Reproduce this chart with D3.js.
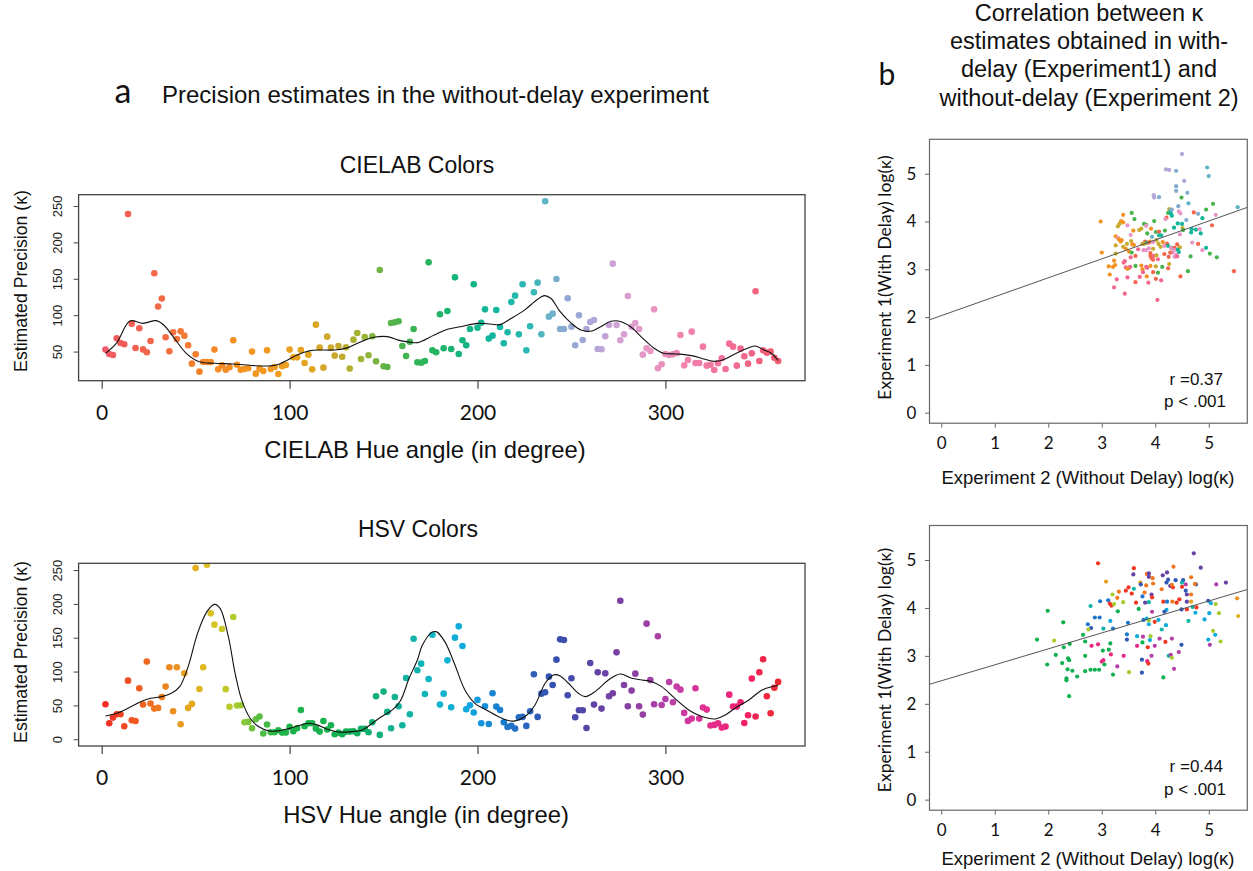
<!DOCTYPE html>
<html>
<head>
<meta charset="utf-8">
<script src="https://cdn.jsdelivr.net/npm/d3@7"></script>
<style>
  body { margin: 0; background: #fff; }
</style>
</head>
<body>
<div id="chart"></div>
<script>

// --------------------------------------------------------
// Data

// tick values
var hue_ticks           = [0, 100, 200, 300];
var cielab_kappa_ticks  = [50, 100, 150, 200, 250];
var hsv_kappa_ticks     = [0, 50, 100, 150, 200, 250];
var log_ticks           = [0, 1, 2, 3, 4, 5];

// panel a, CIELAB: [hue angle, estimated kappa]
var cielab_points = [
  [2,52.7],[4,46.7],[6,45.3],[8,68.2],[10,61.8],[12,60],[14,239],[16,88.4],[18,55],[20,82],
  [22,53],[24,49],[26,64.6],[28,157.5],[30,112],[32,123],[34,69.6],[36,50.4],[38,76.5],[40,67.3],
  [42,77.8],[44,71.9],[46,58.6],[48,33.4],[50,46.2],[52,22.4],[54,35.7],[56,35.7],[58,35.7],[60,52.7],
  [62,25.6],[64,31.1],[66,25.2],[68,28.4],[70,65.5],[72,32],[74,25.2],[76,26],[78,27],[80,50],
  [82,19.7],[84,26.6],[86,23.4],[88,51.7],[90,26],[92,28.8],[94,19.2],[96,29.8],[98,31.6],[100,52.7],
  [102,42.1],[104,42.1],[106,52.2],[108,34.3],[110,45.8],[112,25.6],[114,87],[116,55.4],[118,27.9],[120,70.5],
  [122,55.4],[124,44.4],[126,57.7],[128,43],[130,55.9],[132,26.6],[134,66.4],[136,75.5],[138,39.8],[140,70.1],
  [142,44.9],[144,71],[146,36.6],[148,162],[150,29.8],[152,28.8],[154,89.3],[156,90.2],[158,91.6],[160,57.7],
  [162,44],[164,63.6],[166,81],[168,35.3],[170,34.8],[172,37.1],[174,172.6],[176,51.7],[178,49],[180,101.2],
  [182,54.5],[184,105.8],[186,53.6],[188,152],[190,46.7],[192,65.5],[194,58.6],[196,81],[198,142.4],[200,82.9],
  [202,89.7],[204,108],[206,67.8],[208,71.9],[210,107.1],[212,83.8],[214,61.4],[216,76.5],[218,118.1],[220,126.8],
  [222,73.7],[224,142.4],[226,51.7],[228,84.7],[230,131.4],[232,144.7],[234,73.7],[236,256.4],[238,98],[240,102.1],
  [242,149.7],[244,81],[246,81],[248,123.2],[250,84.2],[252,58.6],[254,99.8],[256,65.9],[258,81],[260,90.7],
  [262,93.4],[264,53.6],[266,53.1],[268,71],[270,86.5],[272,170.8],[274,86.5],[276,65.5],[278,73.7],[280,126.4],
  [282,84.2],[284,89.3],[286,81],[288,45.8],[290,54.5],[292,50.8],[294,108],[296,27],[298,32.5],[300,46.7],
  [302,45.3],[304,46.2],[306,48.1],[308,72.8],[310,31.1],[312,38.5],[314,77.4],[316,34.3],[318,34.3],[320,56.8],
  [322,30.7],[324,32],[326,24.7],[328,33.9],[330,40.8],[332,26.1],[334,60.9],[336,56.8],[338,30.7],[340,54],
  [342,43.5],[344,33.4],[346,47.6],[348,132.8],[350,37.1],[352,51.7],[354,48.5],[356,49.9],[358,41.5],[360,37]
];

// panel a, CIELAB smoothed curve
var cielab_curve = [
  [2,47.6],[8,62],[15,92],[22,88.8],[29,92.5],[33,86.5],[38,70.5],[45,47.6],[52,36],[60,33.9],
  [70,33],[81,30.7],[88,30.2],[93,31.6],[99,38.5],[104,45.3],[111,51.3],[116,52.2],[124,52.2],[131,55.4],
  [138,63.6],[145,69.6],[152,70.5],[159,65],[164,63],[168,62.3],[177,72.8],[184,80.6],[191,84.2],[200,88.8],
  [207,87.9],[212,87],[218,95.7],[225,107],[232,121.8],[235.5,126.8],[239,123.2],[244,104.9],[250,88.8],[255,79.7],
  [261,78.3],[265.5,84.2],[271,91.6],[275,92],[281.5,84.2],[287,70.5],[294,54.5],[299,47.6],[306,46.7],[314,44.4],
  [321,39.4],[326,36.6],[330,38],[337,46.7],[344,54.9],[348,57.7],[352.5,52.2],[356,48.5],[360,38]
];

// panel a, HSV: [hue angle, estimated kappa]
var hsv_points = [
  [2,51.7],[4,23.6],[6,32],[8,36.9],[10,36.9],[12,19.2],[14,86.6],[16,28],[18,27],[20,75.3],
  [22,51.2],[24,114.7],[26,52.7],[28,45.3],[30,46.3],[32,62.5],[34,77.8],[36,106.3],[38,41.3],[40,106.3],
  [42,22.1],[44,97.4],[46,46.3],[48,52.2],[50,253],[52,74.3],[54,106.3],[56,257.9],[58,186],[60,169.3],
  [64,163],[66,74],[68,48],[70,180.6],[72,49.7],[74,50.2],[76,25],[78,25.6],[80,16.2],[82,29.5],
  [84,33.5],[86,8.4],[88,21.7],[90,10.3],[92,10.3],[94,13.3],[96,9.8],[98,9.8],[100,18.2],[102,11.8],
  [104,16.2],[106,43.3],[108,19.2],[110,23.6],[112,23.6],[114,15.7],[116,11.3],[118,27],[120,14.3],[122,20.7],
  [124,7.4],[126,9.8],[128,7.4],[130,11.3],[132,11.3],[134,11.8],[136,8.9],[138,15.3],[140,15.3],[142,10.3],
  [144,25.1],[146,63.5],[148,6.4],[150,70.4],[152,40.4],[154,16.2],[156,62.5],[158,48.7],[160,20.7],[162,90.6],
  [164,36.9],[166,148.6],[168,101.9],[170,111.7],[172,66.9],[174,89.1],[176,154.5],[180,51.2],[182,67.4],[184,116.6],
  [186,47.2],[188,150.1],[190,166.8],[192,137.8],[194,44.3],[196,50.2],[198,39.4],[200,58.1],[202,23.6],[204,48.7],
  [206,22.6],[208,67.9],[210,48.2],[212,43.3],[214,25.1],[216,18.2],[218,19.7],[220,15.7],[222,32.5],[224,33],
  [226,19.7],[228,41.3],[230,96],[232,33],[234,67.4],[236,69.4],[238,92.5],[240,80.2],[242,117.6],[244,147.6],
  [246,146.7],[248,65],[250,90.1],[252,32.5],[254,42.8],[256,42.8],[258,16.7],[260,112.7],[262,51.2],[264,98.9],
  [266,45.3],[268,97.4],[270,63.5],[272,67.9],[274,128.4],[276,204.7],[278,80.2],[280,48.7],[282,71.9],[284,96.9],
  [286,48.7],[288,36.4],[290,170.8],[292,87.6],[294,51.7],[296,152.1],[298,50.7],[300,59.5],[302,84.6],[304,54.6],
  [306,77.8],[308,73.3],[310,38.9],[312,27.1],[314,30.5],[316,75.3],[318,30.5],[320,46.8],[322,43.8],[324,20.2],
  [326,21.2],[328,23.6],[330,17.2],[332,18.7],[334,65.9],[336,48.2],[338,48.2],[340,54.6],[342,24.1],[344,35.4],
  [346,89.6],[348,33.5],[350,98.9],[352,118.1],[354,63.5],[356,38.4],[358,76],[360,84.7]
];

// panel a, HSV smoothed curve
var hsv_curve = [
  [2,34.4],[8,38.4],[14,45.8],[21,55.6],[26,60.5],[32,63],[37,67.9],[41.5,77.8],[46,107.3],[51,156.5],
  [56,188.5],[60,199.3],[63,193.4],[67.4,151.6],[71,97.4],[74.5,58.1],[79,31],[83.4,18.7],[89,12.3],[94,12.3],
  [99.5,15.7],[105,20.2],[110,23.6],[114.6,21.2],[120,14.8],[126,10.8],[133,11.3],[138.7,13.8],[144,23.6],[149,33.5],
  [154.7,43.3],[159,57],[163.6,90],[168,117],[170.5,138],[175.5,157.5],[178,159],[182.6,144.2],[188,109.7],[193.3,72.8],
  [198.6,53.1],[204,44.3],[211,33.5],[216.4,27.6],[220,27.1],[225.3,33.5],[230.6,50.7],[236,82.7],[240.4,95],[244,93.5],
  [248.4,82.7],[253.7,67.9],[257.3,63],[262.6,70.4],[269.7,87.6],[276,96.5],[282,90.1],[287.5,87.6],[292.8,85.1],[298,77.8],
  [305,60.5],[312.4,43.3],[319.4,33.5],[326.5,30],[331.9,35.9],[337,45.8],[344.4,58.1],[351.5,72.8],[356.8,77.8],[360,79.3]
];

// panel b, CIELAB: [log kappa exp 2, log kappa exp 1, hue of the colour]
var exp_cielab = [
  [4.50,5.41,262],[4.97,5.13,236],[5.00,4.95,236],[4.20,5.09,262],[4.26,5.08,262],[4.39,5.06,245],[4.54,4.85,262],
  [4.39,4.74,245],[4.39,4.64,245],[4.60,4.60,245],[3.97,4.55,262],[3.98,4.50,262],[4.07,4.51,245],[4.49,4.50,160],
  [4.62,4.38,236],[5.08,4.37,160],[5.54,4.30,236],[4.43,4.32,245],[4.95,4.25,160],[4.26,4.26,125],[4.28,4.23,236],
  [4.31,4.25,245],[4.24,4.18,160],[4.29,4.17,205],[4.44,4.21,290],[4.47,4.17,290],[4.72,4.19,25],[4.80,4.16,245],
  [5.13,4.14,290],[4.31,4.12,205],[4.21,4.08,25],[4.19,4.05,290],[4.58,4.03,245],[4.88,4.07,205],[3.56,4.18,160],
  [3.40,4.14,75],[2.98,4.00,75],[3.61,4.05,160],[3.36,4.01,75],[3.40,3.98,75],[3.33,3.95,125],[3.30,3.90,125],
  [3.48,3.92,290],[3.98,4.01,160],[3.79,3.95,160],[3.83,3.93,160],[4.42,3.96,205],[4.50,3.95,205],[5.06,3.92,25],
  [4.35,3.87,205],[4.51,3.86,125],[4.68,3.84,205],[4.76,3.83,205],[4.83,3.84,290],[4.52,3.82,160],[3.74,3.85,125],
  [3.70,3.82,125],[3.92,3.85,75],[3.83,3.91,290],[3.59,3.81,75],[3.85,3.75,160],[4.01,3.78,160],[4.07,3.79,25],
  [4.18,3.81,160],[4.67,3.77,205],[4.85,3.75,205],[4.46,3.73,290],[3.54,3.72,290],[3.26,3.69,75],[3.30,3.66,290],
  [3.32,3.63,75],[3.37,3.61,75],[3.35,3.58,75],[4.07,3.71,205],[4.11,3.71,205],[3.94,3.68,236],[4.02,3.61,125],
  [3.90,3.58,75],[3.81,3.58,25],[3.55,3.59,125],[3.47,3.53,125],[3.57,3.52,75],[3.60,3.51,75],[3.26,3.50,125],
  [3.45,3.43,75],[3.40,3.47,125],[3.51,3.37,75],[3.00,3.35,75],[3.26,3.33,125],[3.56,3.35,160],[3.63,3.28,25],
  [3.54,3.25,340],[3.43,3.17,340],[3.41,3.14,340],[3.23,3.18,75],[3.76,3.53,125],[3.79,3.53,125],[3.84,3.56,160],
  [3.88,3.56,25],[3.96,3.57,290],[3.78,3.40,290],[3.83,3.40,290],[3.68,3.42,340],[3.88,3.44,290],[3.91,3.34,25],
  [3.96,3.43,125],[3.91,3.28,25],[3.93,3.23,25],[3.96,3.20,25],[3.97,3.28,340],[4.05,3.21,340],[4.02,3.29,125],
  [4.10,3.47,125],[4.06,3.53,125],[4.14,3.57,75],[4.17,3.49,290],[4.22,3.54,25],[4.24,3.49,205],[4.31,3.45,205],
  [4.29,3.45,290],[4.36,3.45,25],[4.41,3.52,25],[4.46,3.46,125],[4.42,3.41,205],[4.44,3.36,205],[4.35,3.40,290],
  [4.32,3.35,290],[4.17,3.32,25],[4.28,3.35,25],[4.39,3.31,290],[4.36,3.26,290],[4.41,3.27,340],[4.25,3.26,25],
  [4.66,3.27,160],[4.69,3.56,290],[4.80,3.53,25],[4.95,3.45,205],[4.88,3.40,290],[5.02,3.33,160],[5.15,3.25,160],
  [3.13,3.06,75],[3.21,3.05,75],[3.25,3.09,75],[3.45,3.04,340],[3.51,3.03,340],[3.53,3.05,340],[3.48,3.01,75],
  [3.63,3.07,160],[3.74,3.08,75],[3.76,3.00,75],[3.83,3.05,340],[3.85,3.03,340],[3.91,3.07,75],[4.01,3.06,125],
  [3.96,2.94,25],[4.05,2.93,160],[4.13,3.05,160],[4.24,3.02,25],[4.26,3.11,125],[3.77,2.94,340],[3.15,2.89,75],
  [3.28,2.79,340],[3.48,2.83,340],[3.71,2.84,340],[3.84,2.85,75],[3.63,2.73,25],[3.87,2.72,340],[4.01,2.80,25],
  [4.11,2.77,340],[4.47,2.85,25],[4.61,2.96,160],[5.47,2.96,25],[3.23,2.62,340],[3.43,2.49,340],[4.04,2.36,340]
];

// panel b, HSV: [log kappa exp 2, log kappa exp 1, hue of the colour]
var exp_hsv = [
  [4.72,5.14,265],[2.93,4.93,5],[3.60,4.83,5],[4.34,4.86,30],[4.85,4.84,265],[3.59,4.70,265],[3.84,4.71,30],
  [3.88,4.72,265],[3.88,4.65,265],[3.95,4.62,30],[4.14,4.68,265],[4.22,4.74,265],[4.67,4.64,30],[3.08,4.55,45],
  [3.72,4.53,45],[3.73,4.49,235],[3.83,4.47,30],[3.96,4.51,30],[4.24,4.59,235],[4.21,4.53,235],[4.38,4.58,235],
  [4.52,4.58,235],[4.28,4.46,265],[4.33,4.43,5],[4.31,4.48,30],[4.50,4.44,5],[4.57,4.49,300],[4.50,4.53,165],
  [4.76,4.49,235],[4.74,4.50,30],[5.14,4.49,300],[5.32,4.53,265],[3.50,4.43,5],[3.60,4.40,165],[3.45,4.36,5],
  [4.12,4.39,30],[3.32,4.34,30],[3.56,4.30,5],[3.80,4.32,30],[3.93,4.28,265],[3.94,4.22,5],[3.76,4.24,215],
  [3.20,4.28,72],[3.29,4.21,30],[2.97,4.14,215],[3.12,4.16,215],[3.15,4.09,5],[3.18,4.05,5],[3.23,4.08,72],
  [3.40,4.12,72],[3.64,4.11,5],[3.88,4.12,165],[3.81,4.11,265],[4.15,4.13,5],[4.22,4.13,215],[4.32,4.13,30],
  [4.40,4.11,5],[4.45,4.18,5],[4.59,4.13,265],[4.67,4.13,45],[4.57,4.36,235],[4.59,4.28,265],[4.67,4.28,30],
  [4.99,4.15,235],[5.04,4.10,190],[5.13,4.08,72],[2.79,4.04,165],[3.30,3.93,130],[3.69,3.98,130],[4.21,3.96,190],
  [4.17,3.92,235],[3.94,3.92,300],[4.49,3.97,235],[4.59,3.97,5],[4.70,4.02,165],[4.77,4.01,5],[4.75,3.90,190],
  [5.01,3.89,190],[5.19,3.89,72],[5.53,4.20,40],[5.55,3.83,52],[1.99,3.94,130],[2.28,3.70,130],[2.87,3.80,215],
  [2.96,3.80,215],[2.74,3.66,215],[2.80,3.58,235],[2.75,3.55,72],[3.03,3.57,165],[3.21,3.57,215],[3.16,3.73,190],
  [3.49,3.69,215],[3.78,3.75,215],[3.84,3.78,190],[3.88,3.74,72],[3.99,3.71,5],[4.06,3.75,190],[3.88,3.66,190],
  [4.12,3.55,165],[4.20,3.64,190],[4.62,3.73,165],[4.92,3.76,190],[3.47,3.45,215],[3.47,3.34,235],[3.66,3.41,190],
  [3.77,3.40,300],[3.91,3.41,72],[3.76,3.28,130],[3.90,3.33,190],[4.08,3.36,300],[4.19,3.29,5],[4.31,3.36,300],
  [4.49,3.23,235],[4.99,3.34,190],[5.08,3.52,72],[5.12,3.44,190],[5.22,3.30,72],[5.02,3.23,300],[1.79,3.34,130],
  [2.11,3.32,72],[2.40,3.25,130],[2.65,3.44,130],[2.69,3.30,130],[2.29,3.18,130],[2.93,3.24,330],[2.81,3.21,330],
  [3.16,3.26,130],[3.02,3.11,130],[3.13,3.13,130],[3.17,3.03,330],[3.41,3.00,330],[3.66,3.21,330],[3.86,3.18,5],
  [3.99,3.21,300],[2.14,3.02,130],[2.37,2.95,130],[2.39,2.91,130],[2.69,3.00,130],[3.03,2.91,330],[3.00,2.88,330],
  [3.05,2.82,130],[3.75,2.92,235],[3.85,2.89,330],[3.87,2.84,5],[3.93,3.00,300],[4.25,3.00,165],[4.29,3.02,300],
  [4.31,2.96,72],[4.44,3.08,300],[1.98,2.82,130],[2.26,2.85,130],[2.36,2.72,130],[2.45,2.69,130],[2.69,2.68,130],
  [2.79,2.71,130],[2.87,2.71,130],[2.95,2.71,130],[3.29,2.78,300],[3.21,2.61,130],[3.51,2.66,72],[3.75,2.65,235],
  [4.15,2.55,130],[4.35,2.73,300],[2.54,2.57,130],[2.34,2.53,130],[2.34,2.49,130],[2.39,2.16,130]
];

// fitted regression lines: [intercept, slope]
var fit_cielab  = [2.03, 0.396];
var fit_hsv     = [2.48, 0.333];
var stats_cielab = ['r =0.37', 'p < .001'];
var stats_hsv    = ['r =0.44', 'p < .001'];

// --------------------------------------------------------
// Size & fonts
var chart_width   = 1253;
var chart_height  = 871;
var sans          = '"Liberation Sans", Arial, Helvetica, sans-serif';
var humanist      = 'Lato, "Open Sans", sans-serif';

var svg = d3.select('#chart')
  .append('svg')
  .attr('width', chart_width)
  .attr('height', chart_height);

// --------------------------------------------------------
// Colour scales (hue angle -> colour of the stimulus)
var cielab_stops = [
  [0,'#f05a6e'],[12,'#f25c56'],[30,'#f36848'],[45,'#f47a30'],[60,'#f48a24'],[90,'#f29a20'],
  [110,'#e3a422'],[125,'#c8aa2c'],[140,'#98b438'],[152,'#5cb448'],[170,'#30b456'],[190,'#12b47c'],
  [210,'#12b6a0'],[228,'#30b8b4'],[238,'#6ab2c8'],[248,'#8ea8d2'],[262,'#b2a6d8'],[278,'#d8a0d2'],
  [292,'#e896c4'],[310,'#f084b0'],[335,'#f26c94'],[360,'#f05a6e']
];
var hsv_stops = [
  [0,'#ee2a26'],[15,'#f05020'],[30,'#f07820'],[42,'#e89a20'],[52,'#e0b420'],[62,'#d4c828'],
  [72,'#a8cc30'],[82,'#60c040'],[95,'#20b448'],[130,'#10b050'],[150,'#10b080'],[165,'#10b4a8'],
  [180,'#10b4cc'],[195,'#10a8e0'],[210,'#1880d0'],[225,'#2868c0'],[240,'#3450b0'],[255,'#5048a8'],
  [270,'#7040a4'],[290,'#9a40a4'],[305,'#c040a8'],[320,'#e03094'],[340,'#f02070'],[360,'#ee2a30']
];
const cielab_color = d3.scaleLinear()
  .domain(cielab_stops.map(d => d[0]))
  .range(cielab_stops.map(d => d[1]));
const hsv_color = d3.scaleLinear()
  .domain(hsv_stops.map(d => d[0]))
  .range(hsv_stops.map(d => d[1]));

// --------------------------------------------------------
// helpers
function addText(txt, x, y, size, opts) {
  opts = opts || {};
  var t = svg.append('text')
    .attr('x', x)
    .attr('y', y)
    .attr('font-family', opts.family || sans)
    .attr('font-size', size)
    .attr('text-anchor', opts.anchor || 'middle')
    .attr('fill', '#111')
    .text(txt);
  if (opts.rotate) t.attr('transform', 'rotate(-90,' + x + ',' + y + ')');
  return t;
}

// Panel a: hue angle vs precision
function drawHuePanel(cfg) {
  var left = 78.6, right = 805;
  const x_scale = d3.scaleLinear().domain([-12.3, 374.3]).range([left, right]);
  const y_scale = d3.scaleLinear().domain(cfg.ydomain).range(cfg.yrange);
  var top = cfg.yrange[1], bottom = cfg.yrange[0];

  svg.append('clipPath')
    .attr('id', cfg.id)
    .append('rect')
    .attr('x', left).attr('y', top)
    .attr('width', right - left).attr('height', bottom - top);

  svg.append('g')
    .attr('clip-path', 'url(#' + cfg.id + ')')
    .selectAll('circle')
    .data(cfg.points)
    .enter()
    .append('circle')
    .attr('cx', d => x_scale(d[0]))
    .attr('cy', d => y_scale(d[1]))
    .attr('r', 3.3)
    .attr('fill', d => cfg.color(d[0]));

  const line = d3.line()
    .x(d => x_scale(d[0]))
    .y(d => y_scale(d[1]))
    .curve(d3.curveCatmullRom.alpha(0.5));

  svg.append('path')
    .datum(cfg.curve)
    .attr('clip-path', 'url(#' + cfg.id + ')')
    .attr('d', line)
    .attr('fill', 'none')
    .attr('stroke', '#111')
    .attr('stroke-width', 1.1);

  svg.append('rect')
    .attr('x', left).attr('y', top)
    .attr('width', right - left).attr('height', bottom - top)
    .attr('fill', 'none')
    .attr('stroke', '#444')
    .attr('stroke-width', 1.3);

  var xa = svg.append('g')
    .attr('transform', 'translate(0,' + bottom + ')')
    .call(d3.axisBottom(x_scale).tickValues(hue_ticks).tickSize(8).tickPadding(16).tickSizeOuter(0));
  xa.select('.domain').remove();
  xa.selectAll('line').attr('stroke', '#444').attr('stroke-width', 1.2);
  xa.selectAll('text')
    .attr('font-family', humanist)
    .attr('font-size', 21)
    .attr('fill', '#111');

  var ya = svg.append('g')
    .attr('transform', 'translate(' + left + ',0)')
    .call(d3.axisLeft(y_scale).tickValues(cfg.yticks).tickSize(5));
  ya.select('.domain').remove();
  ya.selectAll('line').attr('stroke', '#444');
  ya.selectAll('text')
    .attr('transform', 'rotate(-90)')
    .attr('x', 0)
    .attr('y', -21.6)
    .attr('dy', '0.35em')
    .attr('text-anchor', 'middle')
    .attr('font-family', sans)
    .attr('font-size', 13)
    .attr('fill', '#222');
}

// Panel b: exp 2 vs exp 1 scatter
function drawScatterPanel(cfg) {
  var left = 929.5, right = 1247.3;
  const x_scale = d3.scaleLinear().domain([-0.22, 5.72]).range([left, right]);
  const y_scale = d3.scaleLinear().domain([-0.22, 5.72]).range(cfg.yrange);
  var top = cfg.yrange[1], bottom = cfg.yrange[0];

  svg.append('clipPath')
    .attr('id', cfg.id)
    .append('rect')
    .attr('x', left).attr('y', top)
    .attr('width', right - left).attr('height', bottom - top);

  svg.append('g')
    .attr('clip-path', 'url(#' + cfg.id + ')')
    .selectAll('circle')
    .data(cfg.points)
    .enter()
    .append('circle')
    .attr('cx', d => x_scale(d[0]))
    .attr('cy', d => y_scale(d[1]))
    .attr('r', 2.1)
    .attr('fill', d => cfg.color(d[2]));

  // regression line across the whole box
  var xs = x_scale.domain();
  svg.append('line')
    .attr('clip-path', 'url(#' + cfg.id + ')')
    .attr('x1', x_scale(xs[0])).attr('y1', y_scale(cfg.fit[0] + cfg.fit[1] * xs[0]))
    .attr('x2', x_scale(xs[1])).attr('y2', y_scale(cfg.fit[0] + cfg.fit[1] * xs[1]))
    .attr('stroke', '#555')
    .attr('stroke-width', 1);

  svg.append('rect')
    .attr('x', left).attr('y', top)
    .attr('width', right - left).attr('height', bottom - top)
    .attr('fill', 'none')
    .attr('stroke', '#666')
    .attr('stroke-width', 1.2);

  var xa = svg.append('g')
    .attr('transform', 'translate(0,' + bottom + ')')
    .call(d3.axisBottom(x_scale).tickValues(log_ticks).tickFormat(d3.format('d'))
      .tickSize(4.5).tickPadding(9).tickSizeOuter(0));
  xa.select('.domain').remove();
  xa.selectAll('line').attr('stroke', '#666');
  xa.selectAll('text')
    .attr('font-family', humanist)
    .attr('font-size', 17)
    .attr('fill', '#111');

  var ya = svg.append('g')
    .attr('transform', 'translate(' + left + ',0)')
    .call(d3.axisLeft(y_scale).tickValues(log_ticks).tickFormat(d3.format('d'))
      .tickSize(4.5).tickPadding(9));
  ya.select('.domain').remove();
  ya.selectAll('line').attr('stroke', '#666');
  ya.selectAll('text')
    .attr('text-anchor', 'middle')
    .attr('x', -18)
    .attr('font-family', humanist)
    .attr('font-size', 17)
    .attr('fill', '#111');

  addText(cfg.stats[0], 1223, cfg.statsY[0], 17, { anchor: 'end' });
  addText(cfg.stats[1], 1226, cfg.statsY[1], 17, { anchor: 'end' });
}

// --------------------------------------------------------
// Panel a
addText('a', 123, 103, 34, { family: humanist });
addText('Precision estimates in the without-delay experiment', 162, 103, 24, { anchor: 'start' });

addText('CIELAB Colors', 417, 172.7, 23);
drawHuePanel({
  id: 'clip-cielab',
  points: cielab_points,
  curve: cielab_curve,
  color: cielab_color,
  ydomain: [10, 265.5],
  yrange: [380.7, 194.7],
  yticks: cielab_kappa_ticks
});
addText('Estimated Precision (\u03ba)', 27, 281, 17.7, { rotate: true });
addText('CIELAB Hue angle (in degree)', 425, 458, 23.8);

addText('HSV Colors', 418, 536.7, 23);
drawHuePanel({
  id: 'clip-hsv',
  points: hsv_points,
  curve: hsv_curve,
  color: hsv_color,
  ydomain: [-10, 260],
  yrange: [746, 563.3],
  yticks: hsv_kappa_ticks
});
addText('Estimated Precision (\u03ba)', 27, 652, 17.7, { rotate: true });
addText('HSV Hue angle (in degree)', 426, 823, 23.8);

// --------------------------------------------------------
// Panel b
addText('b', 887, 85, 30, { family: humanist });
var b_title = ['Correlation between \u03ba', 'estimates obtained in with-',
               'delay (Experiment1) and', 'without-delay (Experiment 2)'];
b_title.forEach(function(t, i) {
  addText(t, 1089, 21 + i * 28.2, 23.5);
});

drawScatterPanel({
  id: 'clip-exp-cielab',
  points: exp_cielab,
  color: cielab_color,
  fit: fit_cielab,
  yrange: [423.2, 139.3],
  stats: stats_cielab,
  statsY: [385, 407]
});
addText('Experiment 1(With Delay) log(\u03ba)', 891, 277.5, 17.5, { rotate: true, family: humanist });
addText('Experiment 2 (Without Delay) log(\u03ba)', 1088, 484, 18.5);

drawScatterPanel({
  id: 'clip-exp-hsv',
  points: exp_hsv,
  color: hsv_color,
  fit: fit_hsv,
  yrange: [810.2, 525.5],
  stats: stats_hsv,
  statsY: [771.7, 795]
});
addText('Experiment 1(With Delay) log(\u03ba)', 891, 670, 17.5, { rotate: true, family: humanist });
addText('Experiment 2 (Without Delay) log(\u03ba)', 1088, 865, 18.5);

</script>
</body>
</html>
